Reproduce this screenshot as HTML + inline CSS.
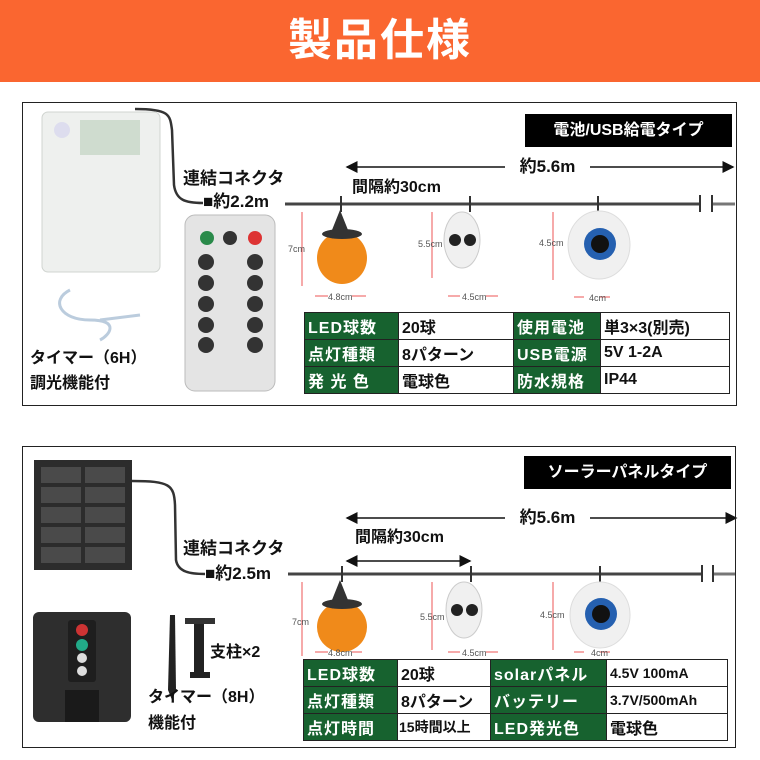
<!DOCTYPE html>
<html><head><meta charset="utf-8"><style>
*{margin:0;padding:0;box-sizing:border-box}
body{width:760px;height:760px;background:#fff;position:relative;overflow:hidden;font-family:"Liberation Sans","Noto Sans CJK JP",sans-serif;color:#111}
.a{position:absolute}
.hdr{left:0;top:0;width:760px;height:82px;background:#fa6630;color:#fff;font-size:44px;font-weight:bold;text-align:center;line-height:82px;letter-spacing:2px}
.panel{border:1.5px solid #222}
.tag{background:#000;color:#fff;font-size:16px;font-weight:bold;text-align:center}
.t{font-size:16px;font-weight:bold;white-space:nowrap;line-height:1}
table{border-collapse:collapse;position:absolute}
td{border:1.5px solid #222;font-size:16px;font-weight:bold;height:27px;padding:0 3px;white-space:nowrap}
td.g{background:#17622f;color:#fff;letter-spacing:1px}
</style></head><body>
<div class="a hdr">製品仕様</div>

<!-- Panel 1 -->
<div class="a panel" style="left:22px;top:102px;width:715px;height:304px"></div>
<div class="a tag" style="left:525px;top:114px;width:207px;height:33px;line-height:33px">電池/USB給電タイプ</div>
<svg class="a" style="left:0;top:0" width="760" height="760">
<defs><marker id="ah" markerWidth="8" markerHeight="8" refX="7" refY="4" orient="auto"><path d="M0,0 L8,4 L0,8 z" fill="#111"/></marker></defs>
<!-- panel 1 lines -->
<line x1="505" y1="167" x2="347" y2="167" stroke="#111" stroke-width="1.5" marker-end="url(#ah)"/>
<line x1="590" y1="167" x2="733" y2="167" stroke="#111" stroke-width="1.5" marker-end="url(#ah)"/>
<path d="M135,109 C170,109 170,115 172,130 L174,185 C176,200 185,203 203,203" fill="none" stroke="#333" stroke-width="2.5"/>
<line x1="285" y1="204" x2="700" y2="204" stroke="#444" stroke-width="3"/>
<line x1="712" y1="204" x2="735" y2="204" stroke="#777" stroke-width="3"/>
<line x1="700" y1="195" x2="700" y2="212" stroke="#333" stroke-width="2"/>
<line x1="712" y1="195" x2="712" y2="212" stroke="#333" stroke-width="2"/>
<line x1="341" y1="196" x2="341" y2="212" stroke="#333" stroke-width="2"/>
<line x1="470" y1="196" x2="470" y2="212" stroke="#333" stroke-width="2"/>
<line x1="598" y1="196" x2="598" y2="212" stroke="#333" stroke-width="2"/>
<!-- battery box -->
<rect x="42" y="112" width="118" height="160" rx="6" fill="#eef0ee" stroke="#d0d4d0"/>
<rect x="80" y="120" width="60" height="35" fill="#cfdccf"/>
<circle cx="62" cy="130" r="8" fill="#dde"/>
<!-- usb cable -->
<path d="M70,290 C50,300 60,320 90,320 C120,320 110,335 100,340 M100,320 L140,315" fill="none" stroke="#bcd" stroke-width="3"/>
<!-- remote -->
<rect x="185" y="215" width="90" height="176" rx="10" fill="#e4e4e4" stroke="#bbb"/>
<circle cx="207" cy="238" r="7" fill="#2a8a4a"/><circle cx="230" cy="238" r="7" fill="#333"/><circle cx="255" cy="238" r="7" fill="#d33"/>
<g fill="#333"><circle cx="206" cy="262" r="8"/><circle cx="255" cy="262" r="8"/><circle cx="206" cy="283" r="8"/><circle cx="255" cy="283" r="8"/><circle cx="206" cy="304" r="8"/><circle cx="255" cy="304" r="8"/><circle cx="206" cy="325" r="8"/><circle cx="255" cy="325" r="8"/><circle cx="206" cy="345" r="8"/><circle cx="255" cy="345" r="8"/></g>
<!-- bulbs 1 -->
<g stroke="#e55" stroke-width="1"><line x1="302" y1="212" x2="302" y2="286"/><line x1="432" y1="212" x2="432" y2="278"/><line x1="553" y1="212" x2="553" y2="280"/>
<line x1="315" y1="296" x2="328" y2="296"/><line x1="352" y1="296" x2="366" y2="296"/><line x1="448" y1="296" x2="460" y2="296"/><line x1="486" y1="296" x2="498" y2="296"/><line x1="574" y1="297" x2="584" y2="297"/><line x1="600" y1="297" x2="610" y2="297"/></g>
<path d="M330,235 L340,210 L350,235 Z" fill="#333"/><ellipse cx="342" cy="258" rx="25" height="" ry="26" fill="#f08a1a"/><ellipse cx="342" cy="234" rx="20" ry="5" fill="#333"/>
<ellipse cx="462" cy="240" rx="18" ry="28" fill="#f0f0f0" stroke="#ccc"/><circle cx="455" cy="240" r="6" fill="#222"/><circle cx="470" cy="240" r="6" fill="#222"/>
<ellipse cx="599" cy="245" rx="31" ry="34" fill="#f0f0f0" stroke="#ddd"/><circle cx="600" cy="244" r="16" fill="#2560b0"/><circle cx="600" cy="244" r="9" fill="#111"/>

<!-- panel 2 lines -->
<line x1="505" y1="518" x2="347" y2="518" stroke="#111" stroke-width="1.5" marker-end="url(#ah)"/>
<line x1="590" y1="518" x2="736" y2="518" stroke="#111" stroke-width="1.5" marker-end="url(#ah)"/>
<line x1="400" y1="561" x2="347" y2="561" stroke="#111" stroke-width="1.5" marker-end="url(#ah)"/>
<line x1="400" y1="561" x2="470" y2="561" stroke="#111" stroke-width="1.5" marker-end="url(#ah)"/>
<path d="M132,481 C170,481 174,485 175,505 L176,560 C178,572 190,574 205,574" fill="none" stroke="#333" stroke-width="2.5"/>
<line x1="288" y1="574" x2="702" y2="574" stroke="#444" stroke-width="3"/>
<line x1="713" y1="574" x2="736" y2="574" stroke="#777" stroke-width="3"/>
<line x1="702" y1="565" x2="702" y2="582" stroke="#333" stroke-width="2"/>
<line x1="713" y1="565" x2="713" y2="582" stroke="#333" stroke-width="2"/>
<line x1="342" y1="566" x2="342" y2="582" stroke="#333" stroke-width="2"/>
<line x1="471" y1="566" x2="471" y2="582" stroke="#333" stroke-width="2"/>
<line x1="600" y1="566" x2="600" y2="582" stroke="#333" stroke-width="2"/>
<!-- solar panel -->
<rect x="34" y="460" width="98" height="110" fill="#2c2c2c"/>
<g fill="#4a4a4a"><rect x="41" y="467" width="40" height="16"/><rect x="85" y="467" width="40" height="16"/><rect x="41" y="487" width="40" height="16"/><rect x="85" y="487" width="40" height="16"/><rect x="41" y="507" width="40" height="16"/><rect x="85" y="507" width="40" height="16"/><rect x="41" y="527" width="40" height="16"/><rect x="85" y="527" width="40" height="16"/><rect x="41" y="547" width="40" height="16"/><rect x="85" y="547" width="40" height="16"/></g>
<!-- controller -->
<rect x="33" y="612" width="98" height="110" rx="6" fill="#2e2e2e"/>
<rect x="68" y="620" width="28" height="62" rx="3" fill="#1e1e1e"/>
<circle cx="82" cy="630" r="6" fill="#c33"/><circle cx="82" cy="645" r="6" fill="#2a8"/><circle cx="82" cy="658" r="5" fill="#ddd"/><circle cx="82" cy="671" r="5" fill="#ddd"/>
<rect x="65" y="690" width="34" height="32" fill="#1a1a1a"/>
<!-- stakes -->
<path d="M170,615 L175,615 L176,690 L172,700 L168,690 Z" fill="#222"/>
<rect x="194" y="622" width="10" height="52" fill="#222"/><rect x="185" y="618" width="30" height="6" fill="#333"/><rect x="190" y="672" width="20" height="6" fill="#222"/>
<!-- bulbs 2 -->
<g stroke="#e55" stroke-width="1"><line x1="302" y1="582" x2="302" y2="656"/><line x1="432" y1="582" x2="432" y2="650"/><line x1="553" y1="582" x2="553" y2="650"/>
<line x1="315" y1="652" x2="328" y2="652"/><line x1="352" y1="652" x2="362" y2="652"/><line x1="448" y1="652" x2="460" y2="652"/><line x1="486" y1="652" x2="498" y2="652"/><line x1="574" y1="652" x2="584" y2="652"/><line x1="600" y1="652" x2="610" y2="652"/></g>
<path d="M330,605 L340,580 L350,605 Z" fill="#333"/><ellipse cx="342" cy="627" rx="25" ry="25" fill="#f08a1a"/><ellipse cx="342" cy="604" rx="20" ry="5" fill="#333"/>
<ellipse cx="464" cy="610" rx="18" ry="28" fill="#f0f0f0" stroke="#ccc"/><circle cx="457" cy="610" r="6" fill="#222"/><circle cx="472" cy="610" r="6" fill="#222"/>
<ellipse cx="600" cy="615" rx="30" ry="33" fill="#f0f0f0" stroke="#ddd"/><circle cx="601" cy="614" r="16" fill="#2560b0"/><circle cx="601" cy="614" r="9" fill="#111"/>
<g font-family="Liberation Sans" font-size="9" fill="#555">
<text x="288" y="252">7cm</text><text x="418" y="247">5.5cm</text><text x="539" y="246">4.5cm</text>
<text x="328" y="300">4.8cm</text><text x="462" y="300">4.5cm</text><text x="589" y="301">4cm</text>
<text x="292" y="625">7cm</text><text x="420" y="620">5.5cm</text><text x="540" y="618">4.5cm</text>
<text x="328" y="656">4.8cm</text><text x="462" y="656">4.5cm</text><text x="591" y="656">4cm</text>
</g>
</svg>
<div class="a t" style="left:183px;top:170px;font-size:17px">連結コネクタ</div>
<div class="a t" style="left:203px;top:193px;font-size:17px">■約2.2m</div>
<div class="a t" style="left:505px;top:158px;width:85px;text-align:center;font-size:17px">約5.6m</div>
<div class="a t" style="left:352px;top:180px;font-size:16px">間隔約30cm</div>
<div class="a t" style="left:30px;top:351px;font-size:16px">タイマー（6H）</div>
<div class="a t" style="left:30px;top:376px;font-size:16px">調光機能付</div>
<table style="left:304px;top:312px;width:426px">
<tr><td class="g" style="width:94px">LED球数</td><td style="width:115px">20球</td><td class="g" style="width:87px">使用電池</td><td>単3×3(別売)</td></tr>
<tr><td class="g">点灯種類</td><td>8パターン</td><td class="g">USB電源</td><td>5V 1-2A</td></tr>
<tr><td class="g">発 光 色</td><td>電球色</td><td class="g">防水規格</td><td>IP44</td></tr>
</table>

<!-- Panel 2 -->
<div class="a panel" style="left:22px;top:446px;width:714px;height:302px"></div>
<div class="a tag" style="left:524px;top:456px;width:207px;height:33px;line-height:33px">ソーラーパネルタイプ</div>
<div class="a t" style="left:183px;top:540px;font-size:17px">連結コネクタ</div>
<div class="a t" style="left:205px;top:565px;font-size:17px">■約2.5m</div>
<div class="a t" style="left:505px;top:509px;width:85px;text-align:center;font-size:17px">約5.6m</div>
<div class="a t" style="left:355px;top:530px;font-size:16px">間隔約30cm</div>
<div class="a t" style="left:210px;top:645px;font-size:16px">支柱×2</div>
<div class="a t" style="left:148px;top:690px;font-size:16px">タイマー（8H）</div>
<div class="a t" style="left:148px;top:716px;font-size:16px">機能付</div>
<table style="left:303px;top:659px;width:425px">
<tr><td class="g" style="width:94px">LED球数</td><td style="width:93px">20球</td><td class="g" style="width:116px">solarパネル</td><td style="font-size:14px">4.5V 100mA</td></tr>
<tr><td class="g">点灯種類</td><td>8パターン</td><td class="g">バッテリー</td><td style="font-size:14px">3.7V/500mAh</td></tr>
<tr><td class="g">点灯時間</td><td style="font-size:14px;padding:0 1px">15時間以上</td><td class="g">LED発光色</td><td>電球色</td></tr>
</table>
</body></html>
